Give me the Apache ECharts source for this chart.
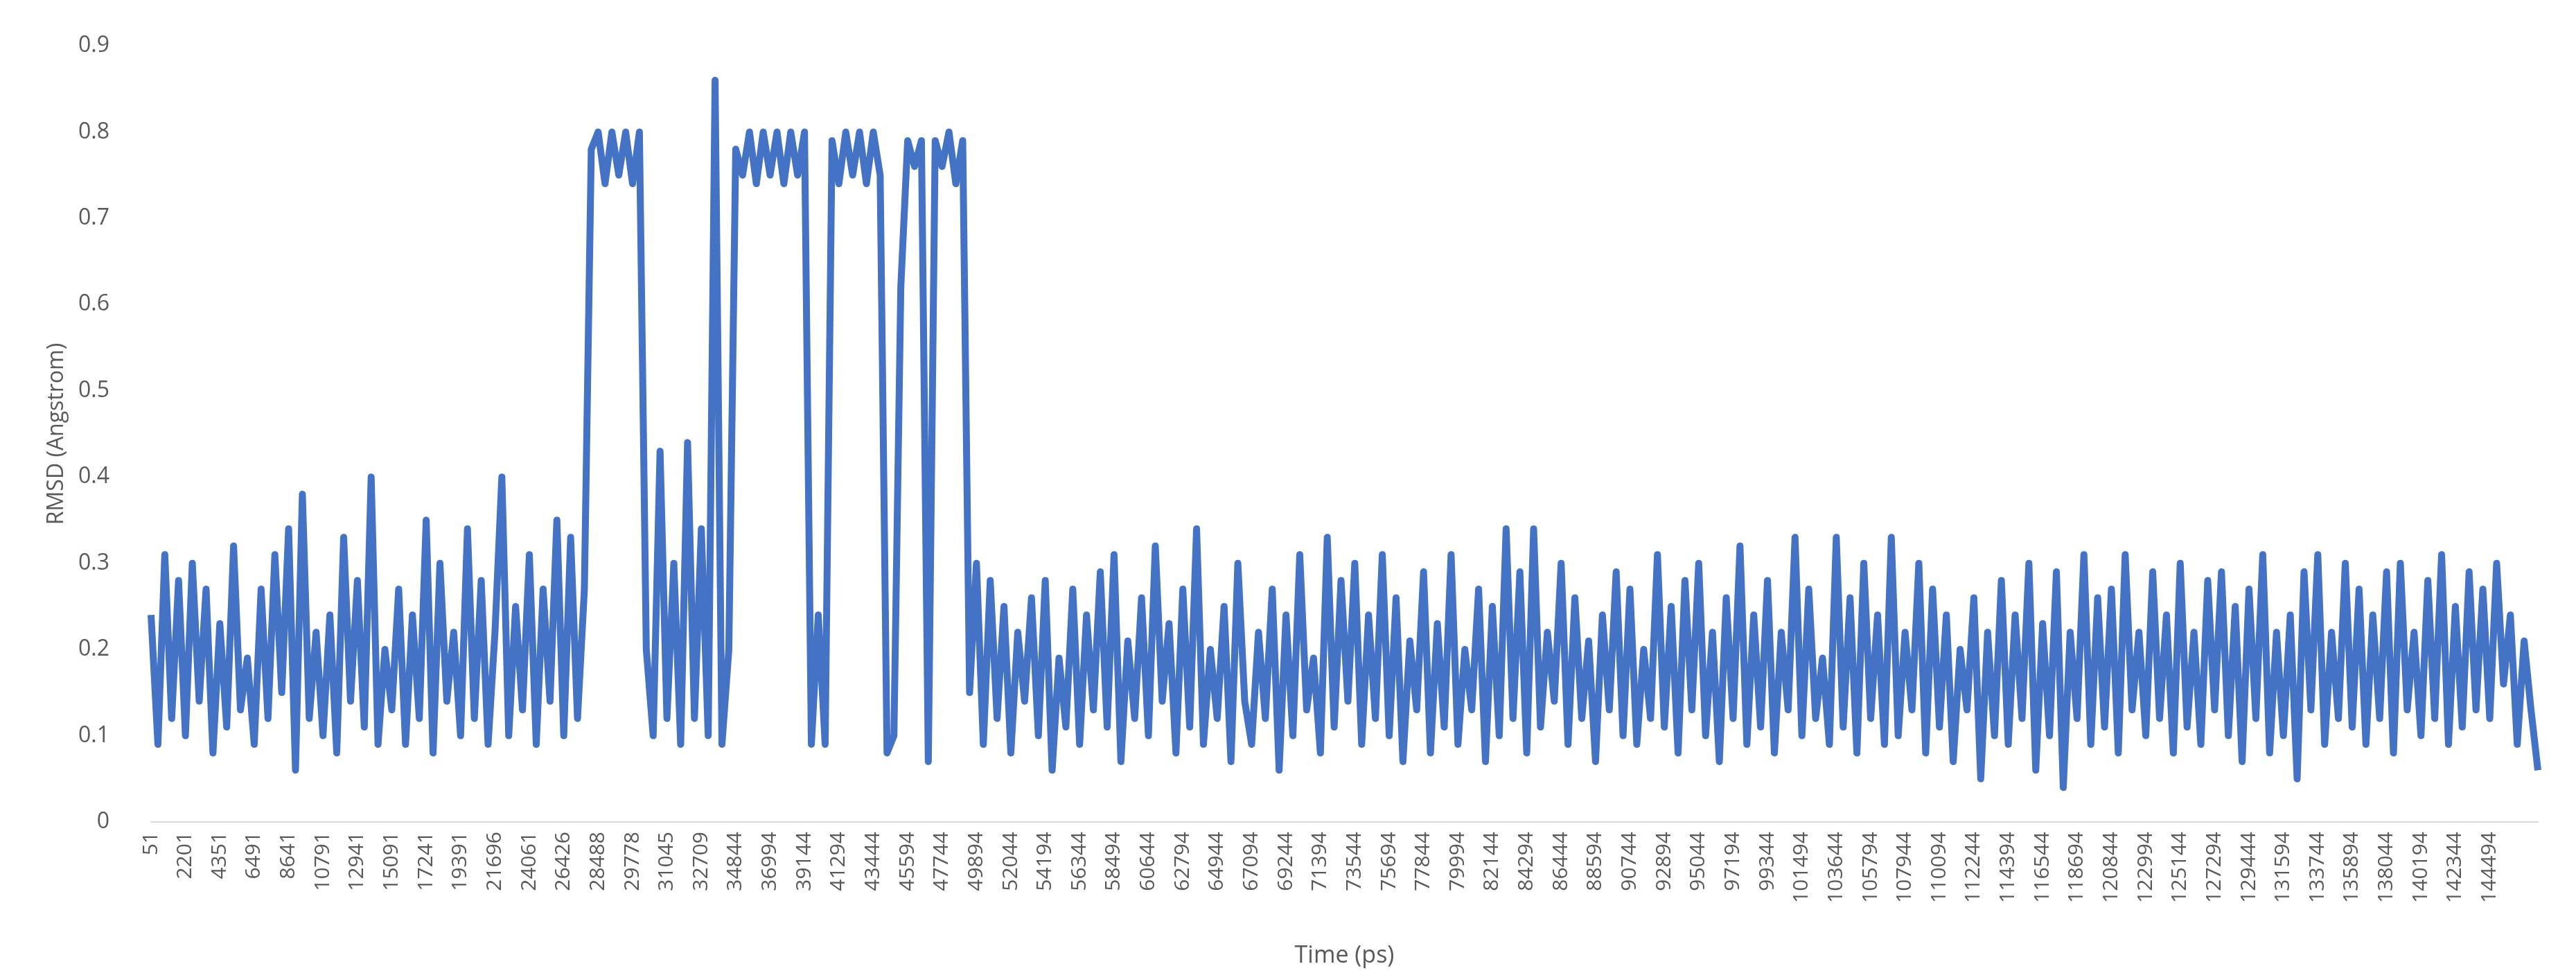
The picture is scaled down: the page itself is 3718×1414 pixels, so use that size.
<!DOCTYPE html>
<html>
<head>
<meta charset="utf-8">
<script src="https://cdn.jsdelivr.net/npm/echarts@6/dist/echarts.min.js"></script>
<style>html,body{margin:0;background:#fff}#main{width:3718px;height:1414px}</style>
</head>
<body>
<div id="main"></div>
<script>
// tick labels on the time axis, one every 5 samples
var tickLabels = ['51','2201','4351','6491','8641','10791','12941','15091','17241','19391','21696','24061','26426','28488','29778','31045','32709','34844','36994','39144','41294','43444','45594','47744','49894','52044','54194','56344','58494','60644','62794','64944','67094','69244','71394','73544','75694','77844','79994','82144','84294','86444','88594','90744','92894','95044','97194','99344','101494','103644','105794','107944','110094','112244','114394','116544','118694','120844','122994','125144','127294','129444','131594','133744','135894','138044','140194','142344','144494']
var samplesPerTick = 5

// RMSD (Angstrom)
var rmsd = [
  .24,.09,.31,.12,.28, .10,.30,.14,.27,.08, .23,.11,.32,.13,.19, .09,.27,.12,.31,.15,
  .34,.06,.38,.12,.22, .10,.24,.08,.33,.14, .28,.11,.40,.09,.20, .13,.27,.09,.24,.12,
  .35,.08,.30,.14,.22, .10,.34,.12,.28,.09, .22,.40,.10,.25,.13, .31,.09,.27,.14,.35,
  .10,.33,.12,.27,.78, .80,.74,.80,.75,.80, .74,.80,.20,.10,.43, .12,.30,.09,.44,.12,
  .34,.10,.86,.09,.20, .78,.75,.80,.74,.80, .75,.80,.74,.80,.75, .80,.09,.24,.09,.79,
  .74,.80,.75,.80,.74, .80,.75,.08,.10,.62, .79,.76,.79,.07,.79, .76,.80,.74,.79,.15,
  .30,.09,.28,.12,.25, .08,.22,.14,.26,.10, .28,.06,.19,.11,.27, .09,.24,.13,.29,.11,
  .31,.07,.21,.12,.26, .10,.32,.14,.23,.08, .27,.11,.34,.09,.20, .12,.25,.07,.30,.14,
  .09,.22,.12,.27,.06, .24,.10,.31,.13,.19, .08,.33,.11,.28,.14, .30,.09,.24,.12,.31,
  .10,.26,.07,.21,.13, .29,.08,.23,.11,.31, .09,.20,.13,.27,.07, .25,.10,.34,.12,.29,
  .08,.34,.11,.22,.14, .30,.09,.26,.12,.21, .07,.24,.13,.29,.10, .27,.09,.20,.12,.31,
  .11,.25,.08,.28,.13, .30,.10,.22,.07,.26, .12,.32,.09,.24,.11, .28,.08,.22,.13,.33,
  .10,.27,.12,.19,.09, .33,.11,.26,.08,.30, .12,.24,.09,.33,.10, .22,.13,.30,.08,.27,
  .11,.24,.07,.20,.13, .26,.05,.22,.10,.28, .09,.24,.12,.30,.06, .23,.10,.29,.04,.22,
  .12,.31,.09,.26,.11, .27,.08,.31,.13,.22, .10,.29,.12,.24,.08, .30,.11,.22,.09,.28,
  .13,.29,.10,.25,.07, .27,.12,.31,.08,.22, .10,.24,.05,.29,.13, .31,.09,.22,.12,.30,
  .11,.27,.09,.24,.12, .29,.08,.30,.13,.22, .10,.28,.12,.31,.09, .25,.11,.29,.13,.27,
  .12,.30,.16,.24,.09, .21,.13,.06
]

var points = rmsd.map(function (v, i) { return [i, v] })

var myChart = echarts.init(document.getElementById('main'))
myChart.setOption({
  animation: false,
  textStyle: { fontFamily: 'Open Sans, Liberation Sans, sans-serif' },
  grid: { left: 218, right: 55, top: 66, bottom: 228 },
  xAxis: {
    type: 'value',
    min: 0,
    max: rmsd.length - 1,
    interval: samplesPerTick,
    name: 'Time (ps)',
    nameLocation: 'middle',
    nameGap: 176,
    nameTextStyle: { fontSize: 34, color: '#595959' },
    splitLine: { show: false },
    axisLine: { lineStyle: { color: '#d9d9d9', width: 2 } },
    axisTick: { show: false },
    axisLabel: {
      rotate: 90,
      fontSize: 30,
      margin: 14,
      color: '#595959',
      showMaxLabel: false,
      formatter: function (v) {
        var k = Math.round(v / samplesPerTick)
        return tickLabels[k] || ''
      }
    }
  },
  yAxis: {
    type: 'value',
    min: 0,
    max: 0.9,
    interval: 0.1,
    name: 'RMSD (Angstrom)',
    nameLocation: 'middle',
    nameGap: 120,
    nameTextStyle: { fontSize: 32, color: '#595959' },
    splitLine: { show: false },
    axisLine: { show: false },
    axisTick: { show: false },
    axisLabel: {
      fontSize: 32,
      color: '#595959',
      margin: 60,
      formatter: function (v) { return +v.toFixed(1) + '' }
    }
  },
  series: [{
    type: 'line',
    data: points,
    showSymbol: false,
    lineStyle: { color: '#4472C4', width: 10, join: 'round' },
    itemStyle: { color: '#4472C4' }
  }]
})
</script>
</body>
</html>
